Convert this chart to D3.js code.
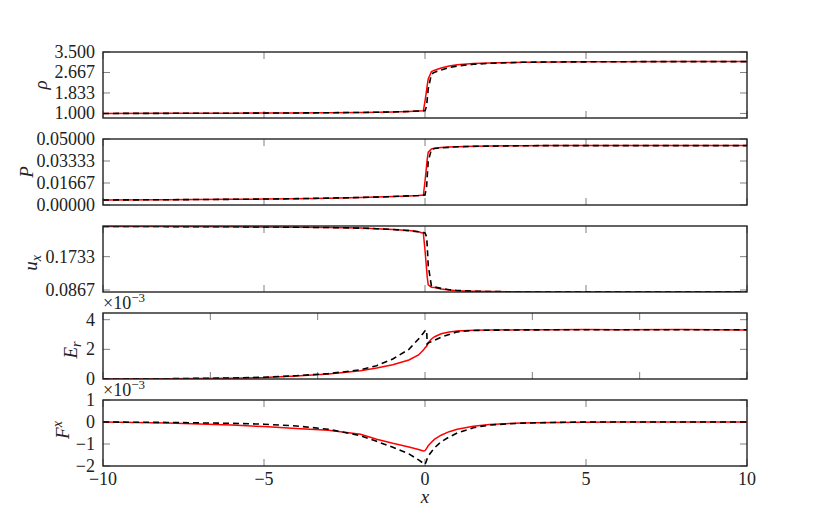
<!DOCTYPE html>
<html>
<head>
<meta charset="utf-8">
<script src="https://cdn.jsdelivr.net/npm/d3@7"></script>
<style>
  body { margin: 0; background: #fff; }
</style>
</head>
<body>
<div id="chart"></div>
<script>
var width = 830, height = 519;

// shared x positions (fine near the shock at x = 0)
var xGrid = [-10, -8, -6, -5, -4, -3, -2, -1.5, -1, -0.5, -0.2, -0.05, 0, 0.05, 0.07,
             0.1, 0.2, 0.3, 0.5, 0.75, 1, 1.5, 2, 3, 4, 5, 6, 8, 10];

// density
var rhoRed   = [1.00, 1.005, 1.01, 1.015, 1.02, 1.03, 1.04, 1.05, 1.06, 1.08, 1.10, 1.11, 1.50, 1.95, 2.15,
                2.40, 2.70, 2.76, 2.85, 2.93, 2.98, 3.03, 3.05, 3.08, 3.095, 3.10, 3.105, 3.11, 3.11];
var rhoBlack = [1.00, 1.005, 1.01, 1.015, 1.02, 1.03, 1.04, 1.05, 1.06, 1.08, 1.10, 1.11, 1.11, 1.30, 1.60,
                2.00, 2.60, 2.68, 2.77, 2.87, 2.93, 3.00, 3.04, 3.08, 3.095, 3.10, 3.105, 3.11, 3.11];

// pressure
var pRed   = [0.0038, 0.0040, 0.0043, 0.0045, 0.0048, 0.0052, 0.0057, 0.0060, 0.0064, 0.0069, 0.0072, 0.0075, 0.018, 0.030, 0.035,
              0.040, 0.0425, 0.0430, 0.0435, 0.0439, 0.0442, 0.0445, 0.0447, 0.0449, 0.0450, 0.0450, 0.0450, 0.0450, 0.0450];
var pBlack = [0.0038, 0.0040, 0.0043, 0.0045, 0.0048, 0.0052, 0.0057, 0.0060, 0.0064, 0.0069, 0.0072, 0.0075, 0.0076, 0.014, 0.022,
              0.033, 0.0423, 0.0428, 0.0433, 0.0437, 0.0441, 0.0444, 0.0446, 0.0449, 0.0450, 0.0450, 0.0450, 0.0450, 0.0450];

// velocity
var uxRed   = [0.252, 0.2515, 0.251, 0.2505, 0.250, 0.249, 0.2475, 0.246, 0.244, 0.241, 0.238, 0.234, 0.190, 0.140, 0.120,
               0.100, 0.094, 0.093, 0.0895, 0.0865, 0.0848, 0.0832, 0.0825, 0.0820, 0.0818, 0.0817, 0.0817, 0.0817, 0.0817];
var uxBlack = [0.252, 0.2515, 0.251, 0.2505, 0.250, 0.249, 0.2475, 0.246, 0.244, 0.241, 0.238, 0.236, 0.235, 0.225, 0.200,
               0.150, 0.097, 0.0945, 0.091, 0.0875, 0.0855, 0.0835, 0.0826, 0.0820, 0.0818, 0.0817, 0.0817, 0.0817, 0.0817];

// radiation energy (x 1e-3)
var erRed   = [0.00, 0.01, 0.05, 0.10, 0.20, 0.33, 0.55, 0.74, 0.96, 1.28, 1.62, 1.95, 2.10, 2.20, 2.30,
               2.45, 2.70, 2.85, 3.05, 3.17, 3.23, 3.28, 3.30, 3.32, 3.32, 3.33, 3.32, 3.33, 3.30];
var erBlack = [0.00, 0.02, 0.07, 0.12, 0.22, 0.36, 0.62, 0.90, 1.35, 2.00, 2.70, 3.10, 3.25, 3.30, 2.36,
               2.43, 2.52, 2.62, 2.82, 3.00, 3.18, 3.27, 3.29, 3.31, 3.32, 3.32, 3.32, 3.32, 3.32];

// radiation flux (x 1e-3)
var fxRed   = [0.00, -0.05, -0.14, -0.21, -0.29, -0.38, -0.56, -0.78, -0.97, -1.14, -1.25, -1.32, -1.30, -1.20, -1.15,
               -1.08, -0.92, -0.78, -0.60, -0.44, -0.33, -0.19, -0.11, -0.04, -0.02, -0.01, 0.00, 0.00, 0.00];
var fxBlack = [0.00, -0.02, -0.06, -0.10, -0.18, -0.33, -0.62, -0.88, -1.15, -1.45, -1.72, -1.88, -1.93, -1.75, -1.65,
               -1.55, -1.35, -1.17, -0.90, -0.68, -0.50, -0.26, -0.14, -0.05, -0.02, 0.00, 0.00, 0.00, 0.00];

// tick values and labels
var xTicks5 = [-10, -5, 0, 5, 10];
var xTicks3 = [-10, -20 / 3, -10 / 3, 0, 10 / 3, 20 / 3, 10];
var xTickLabels = ['\u221210', '\u22125', '0', '5', '10'];
var rhoTicks = [1.0, 1.833, 2.667, 3.5], rhoLabels = ['1.000', '1.833', '2.667', '3.500'];
var pTicks = [0, 0.01667, 0.03333, 0.05], pLabels = ['0.00000', '0.01667', '0.03333', '0.05000'];
var uxTicks = [0.0867, 0.1733], uxLabels = ['0.0867', '0.1733'];
var erTicks = [0, 2, 4], erLabels = ['0', '2', '4'];
var fxTicks = [-2, -1, 0, 1], fxLabels = ['\u22122', '\u22121', '0', '1'];

var panels = [
  { red: rhoRed, black: rhoBlack, domain: [0.815, 3.5], yt: rhoTicks, yl: rhoLabels, xt: xTicks5,
    label: [['\u03c1', 0]], lx: 47, ly: 85 },
  { red: pRed, black: pBlack, domain: [0, 0.05], yt: pTicks, yl: pLabels, xt: xTicks5,
    label: [['P', 0]], lx: 33, ly: 172 },
  { red: uxRed, black: uxBlack, domain: [0.0815, 0.253], yt: uxTicks, yl: uxLabels, xt: xTicks5,
    label: [['u', 0], ['x', -1]], lx: 37, ly: 263 },
  { red: erRed, black: erBlack, domain: [0, 4.45], yt: erTicks, yl: erLabels, xt: xTicks3,
    label: [['E', 0], ['r', -1]], lx: 77, ly: 350, offset: true },
  { red: fxRed, black: fxBlack, domain: [-2, 1], yt: fxTicks, yl: fxLabels, xt: xTicks5,
    label: [['F', 0], ['x', 1]], lx: 69, ly: 430, offset: true }
];

var left = 103, right = 747, top0 = 52, ph = 66, step = 87;
var serif = '"Times New Roman", "Liberation Serif", "DejaVu Serif", serif';

var svg = d3.select('#chart').append('svg')
  .attr('width', width)
  .attr('height', height)
  .attr('font-family', serif);

var x = d3.scaleLinear().domain([-10, 10]).range([left, right]);

panels.forEach(function(p, i) {
  var t = top0 + i * step;
  var y = d3.scaleLinear().domain(p.domain).range([t + ph, t]);
  var g = svg.append('g');

  // clip so the lines stay inside the frame
  var cid = 'clip' + i;
  g.append('clipPath').attr('id', cid)
    .append('rect').attr('x', left).attr('y', t).attr('width', right - left).attr('height', ph);

  // ticks pointing inwards, on all four sides
  var tl = 7;
  var tg = g.append('g').attr('stroke', '#808080').attr('stroke-width', 1);
  p.xt.forEach(function(v) {
    tg.append('line').attr('x1', x(v)).attr('x2', x(v)).attr('y1', t).attr('y2', t + tl);
    tg.append('line').attr('x1', x(v)).attr('x2', x(v)).attr('y1', t + ph).attr('y2', t + ph - tl);
  });
  p.yt.forEach(function(v) {
    tg.append('line').attr('x1', left).attr('x2', left + tl).attr('y1', y(v)).attr('y2', y(v));
    tg.append('line').attr('x1', right).attr('x2', right - tl).attr('y1', y(v)).attr('y2', y(v));
  });

  var line = d3.line()
    .x(function(d, j) { return x(xGrid[j]); })
    .y(function(d) { return y(d); });

  var lg = g.append('g').attr('clip-path', 'url(#' + cid + ')');
  lg.append('path').datum(p.red)
    .attr('d', line)
    .attr('fill', 'none')
    .attr('stroke', '#ff0000')
    .attr('stroke-width', 1.5);
  lg.append('path').datum(p.black)
    .attr('d', line)
    .attr('fill', 'none')
    .attr('stroke', '#000')
    .attr('stroke-width', 1.6)
    .attr('stroke-dasharray', '6,4');

  // frame
  g.append('rect')
    .attr('x', left).attr('y', t)
    .attr('width', right - left).attr('height', ph)
    .attr('fill', 'none')
    .attr('stroke', '#222')
    .attr('stroke-width', 1.4);

  // y tick labels
  g.selectAll('.ylab').data(p.yt).enter().append('text')
    .attr('x', left - 8)
    .attr('y', function(v) { return y(v); })
    .attr('dy', '0.33em')
    .attr('text-anchor', 'end')
    .attr('fill', '#222')
    .style('font-size', '18px')
    .text(function(v, j) { return p.yl[j]; });

  // y axis label, rotated
  var lt = g.append('text')
    .attr('transform', 'translate(' + p.lx + ',' + p.ly + ') rotate(-90)')
    .attr('text-anchor', 'middle')
    .attr('fill', '#222')
    .style('font-size', '19px')
    .style('font-style', 'italic');
  p.label.forEach(function(s) {
    var ts = lt.append('tspan').text(s[0]);
    if (s[1] !== 0) {
      ts.style('font-size', '14px')
        .attr('baseline-shift', s[1] > 0 ? '50%' : '-25%');
    }
  });

  // scale factor shown above the panel
  if (p.offset) {
    var ot = g.append('text')
      .attr('x', left)
      .attr('y', t - 4)
      .attr('fill', '#222')
      .style('font-size', '18px');
    ot.append('tspan').text('\u00d710');
    ot.append('tspan').text('\u22123')
      .style('font-size', '13px')
      .attr('baseline-shift', '55%');
  }

  // x tick labels only on the bottom panel
  if (i === panels.length - 1) {
    g.selectAll('.xlab').data(p.xt).enter().append('text')
      .attr('x', function(v) { return x(v); })
      .attr('y', t + ph + 19)
      .attr('text-anchor', 'middle')
      .attr('fill', '#222')
      .style('font-size', '18px')
      .text(function(v, j) { return xTickLabels[j]; });
  }
});

svg.append('text')
  .attr('x', x(0))
  .attr('y', top0 + 4 * step + ph + 37)
  .attr('text-anchor', 'middle')
  .attr('fill', '#222')
  .style('font-size', '19px')
  .style('font-style', 'italic')
  .text('x');
</script>
</body>
</html>
